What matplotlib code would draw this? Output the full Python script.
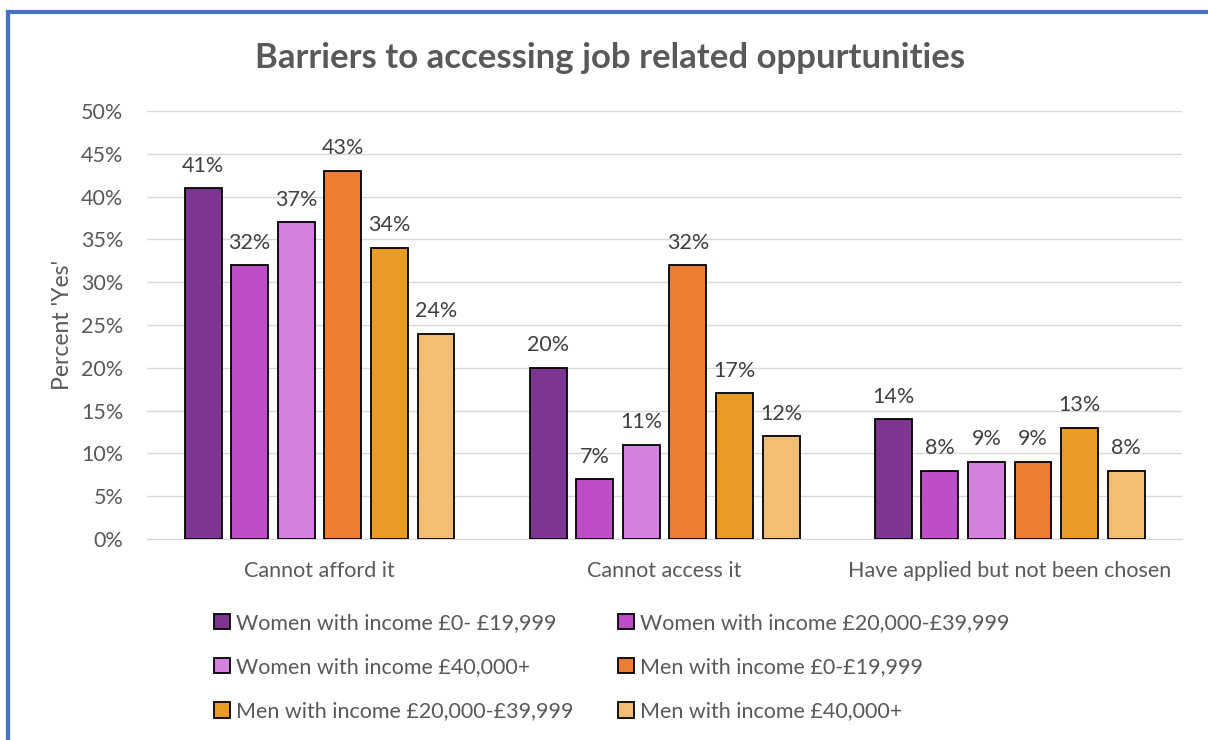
import numpy as np
import matplotlib
matplotlib.use('Agg')
import matplotlib.pyplot as plt
from matplotlib.lines import Line2D
from matplotlib.ticker import PercentFormatter

plt.rcParams['font.family'] = ['Lato', 'DejaVu Sans']

categories = ['Cannot afford it', 'Cannot access it', 'Have applied but not been chosen']
series = ['Women with income £0- £19,999', 'Women with income £20,000-£39,999',
          'Women with income £40,000+', 'Men with income £0-£19,999',
          'Men with income £20,000-£39,999', 'Men with income £40,000+']
values = [
    [41, 20, 14],
    [32, 7, 8],
    [37, 11, 9],
    [43, 32, 9],
    [34, 17, 13],
    [24, 12, 8],
]
colors = ['#7E3592', '#BE4DC8', '#D481DC', '#ED7D31', '#E89C24', '#F2BE74']

grey = '#595959'
fig = plt.figure(figsize=(12.08, 7.40), dpi=100)
ax = fig.add_axes([0.1217, 0.2716, 0.857, 0.5784])

x = np.arange(len(categories))
step = 0.135
width = 0.107
handles = []
for i, (name, vals) in enumerate(zip(series, values)):
    pos = x + (i - 2.5) * step
    bars = ax.bar(pos, vals, width, color=colors[i], edgecolor='black', linewidth=1.3,
                  label=name, zorder=3)
    handles.append(bars)
    ax.bar_label(bars, labels=[f'{v}%' for v in vals], padding=9, fontsize=15.5, color='#404040')

ax.set_xlim(-0.5, 2.5)
ax.set_ylim(0, 50)
ax.set_yticks(range(0, 51, 5))
ax.yaxis.set_major_formatter(PercentFormatter(decimals=0))
ax.set_xticks(x)
ax.set_xticklabels(categories)
ax.tick_params(axis='both', length=0, labelsize=15.5, labelcolor=grey)
ax.tick_params(axis='x', pad=16)
ax.tick_params(axis='y', pad=17)
ax.grid(axis='y', color='#D9D9D9', linewidth=1, zorder=0)
for s in ['top', 'right', 'left']:
    ax.spines[s].set_visible(False)
ax.spines['bottom'].set_color('#D9D9D9')
ax.set_ylabel("Percent 'Yes'", fontsize=16.5, color=grey, labelpad=6)

fig.text(0.505, 0.922, 'Barriers to accessing job related oppurtunities', ha='center', va='center',
         fontsize=25, fontweight='bold', color=grey)

# legend filled row by row, like the original
order = [0, 2, 4, 1, 3, 5]
fig.legend([handles[k] for k in order], [series[k] for k in order],
           loc='upper left', bbox_to_anchor=(214 / 1208, 1 - 613 / 740), ncol=2, frameon=False,
           fontsize=15.5, labelcolor=grey, handlelength=0.75, handleheight=0.75, handletextpad=0.25,
           columnspacing=2.1, labelspacing=1.12, borderpad=0, borderaxespad=0)

# blue frame on left and top edges
fig.add_artist(Line2D([8 / 1208, 8 / 1208], [0, 1 - 12 / 740], transform=fig.transFigure,
                      color='#4472C4', linewidth=3))
fig.add_artist(Line2D([8 / 1208, 1], [1 - 12 / 740, 1 - 12 / 740], transform=fig.transFigure,
                      color='#4472C4', linewidth=3))

plt.savefig('out.png', dpi=100)
